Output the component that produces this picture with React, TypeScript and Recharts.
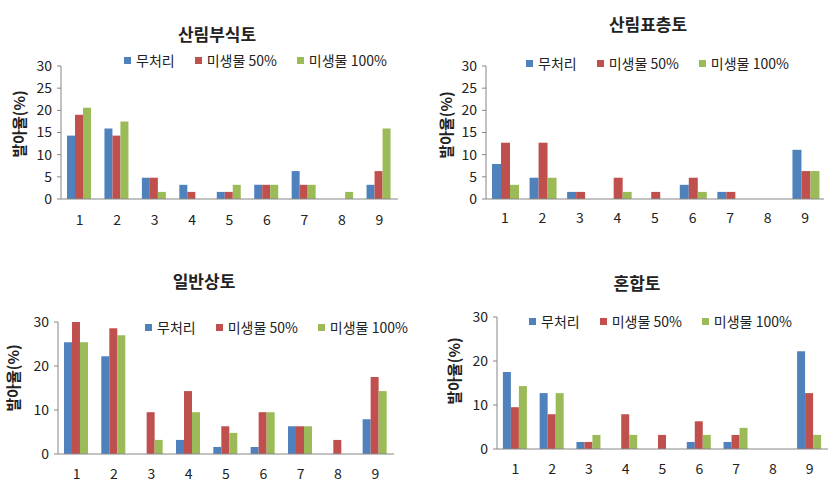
import React from 'react';
import { BarChart, Bar, XAxis, YAxis, Legend } from 'recharts';

const categories = ['1', '2', '3', '4', '5', '6', '7', '8', '9'];
const seriesNames = ['무처리', '미생물 50%', '미생물 100%'];
const seriesColors = ['#4F81BD', '#C0504D', '#9BBB59'];

// 산림부식토
const humusControl = [14.3, 15.9, 4.8, 3.2, 1.6, 3.2, 6.3, 0, 3.2];
const humusMicro50 = [19.0, 14.3, 4.8, 1.6, 1.6, 3.2, 3.2, 0, 6.3];
const humusMicro100 = [20.6, 17.5, 1.6, 0, 3.2, 3.2, 3.2, 1.6, 15.9];

// 산림표층토
const surfaceControl = [7.9, 4.8, 1.6, 0, 0, 3.2, 1.6, 0, 11.1];
const surfaceMicro50 = [12.7, 12.7, 1.6, 4.8, 1.6, 4.8, 1.6, 0, 6.3];
const surfaceMicro100 = [3.2, 4.8, 0, 1.6, 0, 1.6, 0, 0, 6.3];

// 일반상토
const commercialControl = [25.4, 22.2, 0, 3.2, 1.6, 1.6, 6.3, 0, 7.9];
const commercialMicro50 = [30.2, 28.6, 9.5, 14.3, 6.3, 9.5, 6.3, 3.2, 17.5];
const commercialMicro100 = [25.4, 27.0, 3.2, 9.5, 4.8, 9.5, 6.3, 0, 14.3];

// 혼합토
const mixedControl = [17.5, 12.7, 1.6, 0, 0, 1.6, 1.6, 0, 22.2];
const mixedMicro50 = [9.5, 7.9, 1.6, 7.9, 3.2, 6.3, 3.2, 0, 12.7];
const mixedMicro100 = [14.3, 12.7, 3.2, 3.2, 0, 3.2, 4.8, 0, 3.2];

const fineTicks = [0, 5, 10, 15, 20, 25, 30];
const coarseTicks = [0, 10, 20, 30];

const FONT = '"Noto Sans CJK KR", "Noto Sans", sans-serif';
const AXIS = '#868686';
const TEXT = '#222';

const buildRows = (a: number[], b: number[], c: number[]) =>
  categories.map((cat, i) => ({ cat, s0: a[i], s1: b[i], s2: c[i] }));

const LegendRow = ({ payload }: any) => (
  <div style={{ display: 'flex', alignItems: 'center', fontFamily: FONT, fontSize: 14, color: TEXT, whiteSpace: 'nowrap' }}>
    {(payload || []).map((p: any, i: number) => (
      <div key={i} style={{ display: 'flex', alignItems: 'center', marginRight: 20 }}>
        <span style={{ width: 7, height: 7, background: p.color, marginRight: 5, display: 'inline-block' }} />
        <span>{p.value}</span>
      </div>
    ))}
  </div>
);

interface PanelProps {
  title: string;
  rows: any[];
  left: number;
  top: number;
  height: number;
  plotLeft: number;
  plotRight: number;
  plotTop: number;
  plotBottom: number;
  ticks: number[];
  labelGap: number;
  titleX: number;
  titleY: number;
  yLabelX: number;
  yLabelY: number;
  legendX: number;
  legendY: number;
}

const Panel: React.FC<PanelProps> = (p) => {
  const width = 420;
  return (
    <div style={{ position: 'absolute', left: p.left, top: p.top, width, height: p.height }}>
      <BarChart
        width={width}
        height={p.height}
        data={p.rows}
        margin={{ top: p.plotTop, right: width - p.plotRight, left: 0, bottom: 0 }}
        barCategoryGap="16%"
        barGap={0}
      >
        <XAxis
          dataKey="cat"
          stroke={AXIS}
          tickLine={false}
          tickSize={0}
          tickMargin={p.labelGap}
          height={p.height - p.plotBottom}
          tick={{ fill: TEXT, fontSize: 14, fontFamily: FONT }}
          interval={0}
        />
        <YAxis
          width={p.plotLeft}
          domain={[0, 30]}
          ticks={p.ticks}
          allowDataOverflow
          stroke={AXIS}
          tickSize={4}
          tickMargin={5}
          tick={{ fill: TEXT, fontSize: 14, fontFamily: FONT }}
        />
        <Legend
          verticalAlign="top"
          itemSorter="dataKey"
          content={<LegendRow />}
          wrapperStyle={{ left: p.legendX, top: p.legendY - 10, width: 'auto', background: '#fff', padding: '0 2px' }}
        />
        {seriesNames.map((name, i) => (
          <Bar key={name} dataKey={`s${i}`} name={name} fill={seriesColors[i]} isAnimationActive={false} />
        ))}
      </BarChart>
      <div
        style={{
          position: 'absolute', left: p.titleX, top: p.titleY, transform: 'translate(-50%, -50%)',
          fontFamily: FONT, fontWeight: 'bold', fontSize: 17, color: TEXT, whiteSpace: 'nowrap',
        }}
      >
        {p.title}
      </div>
      <div
        style={{
          position: 'absolute', left: p.yLabelX, top: p.yLabelY, transform: 'translate(-50%, -50%) rotate(-90deg)',
          fontFamily: FONT, fontWeight: 'bold', fontSize: 15, color: TEXT, whiteSpace: 'nowrap',
        }}
      >
        발아율(%)
      </div>
    </div>
  );
};

export default function App() {
  return (
    <div style={{ position: 'absolute', left: 0, top: 0, width: 840, height: 499, background: '#fff', overflow: 'hidden' }}>
      <Panel
        title="산림부식토"
        rows={buildRows(humusControl, humusMicro50, humusMicro100)}
        left={0} top={0} height={250}
        plotLeft={61} plotRight={398} plotTop={46} plotBottom={199}
        ticks={fineTicks} labelGap={16}
        titleX={217} titleY={33} yLabelX={18} yLabelY={124}
        legendX={122} legendY={60}
      />
      <Panel
        title="산림표층토"
        rows={buildRows(surfaceControl, surfaceMicro50, surfaceMicro100)}
        left={420} top={0} height={250}
        plotLeft={66} plotRight={404} plotTop={46} plotBottom={199}
        ticks={fineTicks} labelGap={14}
        titleX={228} titleY={23} yLabelX={25} yLabelY={125}
        legendX={104} legendY={63}
      />
      <Panel
        title="일반상토"
        rows={buildRows(commercialControl, commercialMicro50, commercialMicro100)}
        left={0} top={250} height={249}
        plotLeft={58} plotRight={394} plotTop={52} plotBottom={204}
        ticks={coarseTicks} labelGap={15}
        titleX={204} titleY={30} yLabelX={12} yLabelY={128}
        legendX={143} legendY={77}
      />
      <Panel
        title="혼합토"
        rows={buildRows(mixedControl, mixedMicro50, mixedMicro100)}
        left={420} top={250} height={249}
        plotLeft={77} plotRight={408} plotTop={47} plotBottom={199}
        ticks={coarseTicks} labelGap={15}
        titleX={217} titleY={32} yLabelX={33} yLabelY={121}
        legendX={107} legendY={71}
      />
    </div>
  );
}
